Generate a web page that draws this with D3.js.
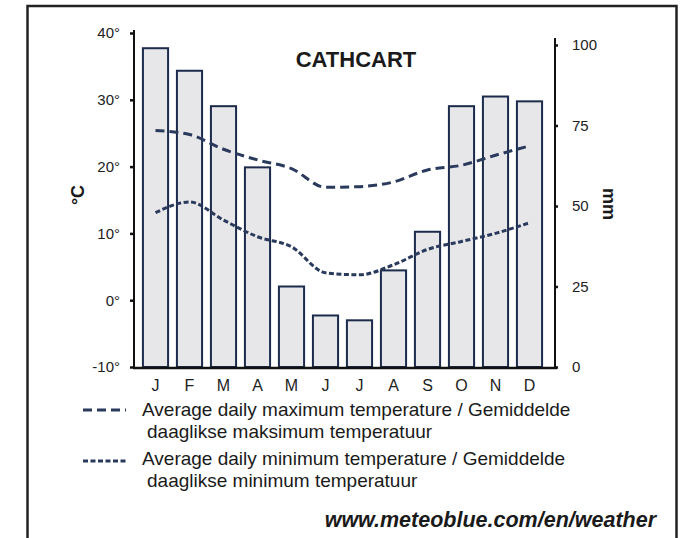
<!DOCTYPE html>
<html>
<head>
<meta charset="utf-8">
<script src="https://cdn.jsdelivr.net/npm/d3@7"></script>
<style>
  body { margin: 0; background: #fff; }
  svg { display: block; font-family: "Liberation Sans", Arial, sans-serif; }
</style>
</head>
<body>
<svg id="chart" width="687" height="538"></svg>
<script>
// climate data
const months = ['J', 'F', 'M', 'A', 'M', 'J', 'J', 'A', 'S', 'O', 'N', 'D'];
const rainfall = [99, 92, 81, 62, 25, 16, 14.5, 30, 42, 81, 84, 82.5];
const maxTemp = [25.4, 24.8, 22.6, 21.0, 19.7, 16.9, 17.0, 17.7, 19.5, 20.2, 21.7, 23.1];
const minTemp = [13.1, 14.7, 12.0, 9.5, 8.0, 4.1, 3.8, 5.3, 7.6, 8.8, 10.0, 11.6];
const tempTicks = [-10, 0, 10, 20, 30, 40];
const rainTicks = [0, 25, 50, 75, 100];
const legendItems = [
  { dash: '9,5', lines: ['Average daily maximum temperature / Gemiddelde', 'daaglikse maksimum temperatuur'] },
  { dash: '5,2.5', lines: ['Average daily minimum temperature / Gemiddelde', 'daaglikse minimum temperatuur'] }
];

const ink = '#1c2b4b';
const svg = d3.select('#chart');

// outer frame
svg.append('rect').attr('x', 27.5).attr('y', 6).attr('width', 649).attr('height', 560)
  .attr('fill', 'none').attr('stroke', '#222').attr('stroke-width', 2.5);

const xScale = d3.scaleBand().domain(d3.range(12)).range([138.5, 546.5])
  .paddingInner(0.26).paddingOuter(0.13);
const yTemp = d3.scaleLinear().domain([-10, 40]).range([367, 33]);
const yRain = d3.scaleLinear().domain([0, 100]).range([367, 45]);
const cx = i => xScale(i) + xScale.bandwidth() / 2;

// rainfall bars
svg.append('g').selectAll('rect').data(rainfall).enter().append('rect')
  .attr('x', (d, i) => xScale(i))
  .attr('y', d => yRain(d))
  .attr('width', xScale.bandwidth())
  .attr('height', d => yRain(0) - yRain(d))
  .attr('fill', '#e7e7e9')
  .attr('stroke', ink)
  .attr('stroke-width', 2);

// temperature curves
const line = d3.line().x((d, i) => cx(i)).y(d => yTemp(d)).curve(d3.curveMonotoneX);
svg.append('path').attr('d', line(maxTemp)).attr('fill', 'none')
  .attr('stroke', '#2a3a5c').attr('stroke-width', 3).attr('stroke-dasharray', legendItems[0].dash);
svg.append('path').attr('d', line(minTemp)).attr('fill', 'none')
  .attr('stroke', '#2a3a5c').attr('stroke-width', 3).attr('stroke-dasharray', legendItems[1].dash);

// left axis
const left = svg.append('g').attr('transform', 'translate(134,0)')
  .call(d3.axisLeft(yTemp).tickValues(tempTicks).tickSize(4).tickPadding(10).tickFormat(d => d + '°'));
left.select('.domain').attr('d', 'M0,30V368').attr('stroke', '#111').attr('stroke-width', 2);
left.selectAll('.tick line').attr('stroke', '#111').attr('stroke-width', 2.5);
left.selectAll('.tick text').attr('font-size', 15).attr('fill', '#222')
  .attr('font-family', '"Liberation Sans", Arial, sans-serif');

// right axis
const right = svg.append('g').attr('transform', 'translate(555,0)')
  .call(d3.axisRight(yRain).tickValues(rainTicks).tickSize(3).tickPadding(14));
right.select('.domain').attr('d', 'M0,38V368').attr('stroke', '#111').attr('stroke-width', 2);
right.selectAll('.tick line').attr('stroke', '#111').attr('stroke-width', 2.5);
right.selectAll('.tick text').attr('font-size', 15).attr('fill', '#222')
  .attr('font-family', '"Liberation Sans", Arial, sans-serif');

// bottom axis
const bottom = svg.append('g').attr('transform', 'translate(0,368)')
  .call(d3.axisBottom(xScale).tickSize(0).tickPadding(12).tickFormat(i => months[i]));
bottom.select('.domain').attr('d', 'M133,0H557').attr('stroke', '#111').attr('stroke-width', 2.5);
bottom.selectAll('.tick text').attr('font-size', 16).attr('fill', '#222')
  .attr('font-family', '"Liberation Sans", Arial, sans-serif');

// titles
svg.append('text').attr('x', 356).attr('y', 67).attr('text-anchor', 'middle')
  .attr('font-size', 22).attr('font-weight', 'bold').attr('fill', '#1a1a1a').text('CATHCART');
svg.append('text').attr('transform', 'translate(84,195) rotate(-90)').attr('text-anchor', 'middle')
  .attr('font-size', 18).attr('font-weight', 'bold').attr('fill', '#1a1a1a').text('°C');
svg.append('text').attr('transform', 'translate(603,204) rotate(90)').attr('text-anchor', 'middle')
  .attr('font-size', 18).attr('font-weight', 'bold').attr('fill', '#1a1a1a').text('mm');

// legend
const legendY = [410, 461];
const textY = [[416, 438], [465, 487]];
legendItems.forEach((item, k) => {
  svg.append('line').attr('x1', 83).attr('x2', 126).attr('y1', legendY[k]).attr('y2', legendY[k])
    .attr('stroke', '#2a3a5c').attr('stroke-width', 3).attr('stroke-dasharray', item.dash);
  item.lines.forEach((t, j) => {
    svg.append('text').attr('x', j === 0 ? 142 : 147).attr('y', textY[k][j])
      .attr('font-size', 19).attr('fill', '#1a1a1a').text(t);
  });
});

// source
svg.append('text').attr('x', 656).attr('y', 527).attr('text-anchor', 'end')
  .attr('font-size', 21.5).attr('font-weight', 'bold').attr('font-style', 'italic')
  .attr('fill', '#1a1a1a').text('www.meteoblue.com/en/weather');
</script>
</body>
</html>
